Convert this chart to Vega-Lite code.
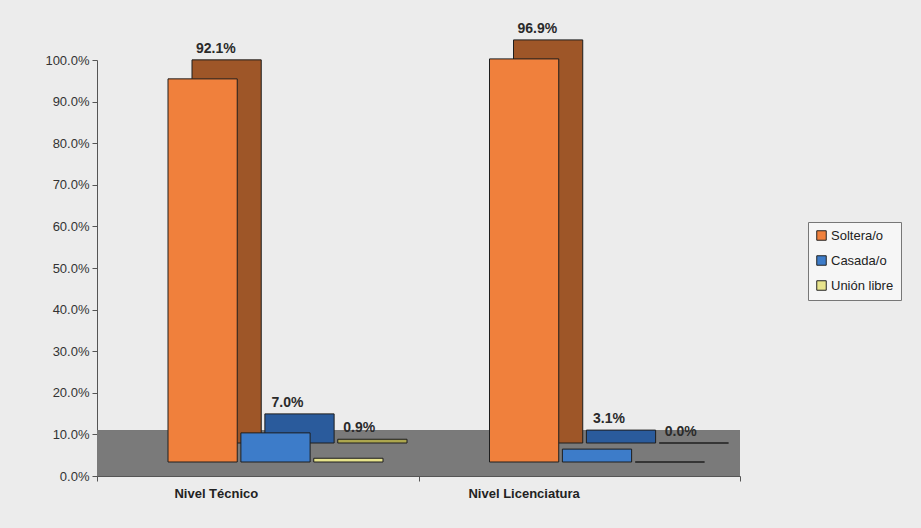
{
  "$schema": "https://vega.github.io/schema/vega-lite/v6.json",
  "width": 643,
  "height": 416,
  "autosize": {"type": "none"},
  "padding": {"left": 97, "top": 60, "right": 181, "bottom": 52},
  "background": "#ececec",
  "data": {
    "values": [
      {"nivel": "Nivel Técnico", "estado": "Soltera/o", "valor": 0.921},
      {"nivel": "Nivel Técnico", "estado": "Casada/o", "valor": 0.07},
      {"nivel": "Nivel Técnico", "estado": "Unión libre", "valor": 0.009},
      {"nivel": "Nivel Licenciatura", "estado": "Soltera/o", "valor": 0.969},
      {"nivel": "Nivel Licenciatura", "estado": "Casada/o", "valor": 0.031},
      {"nivel": "Nivel Licenciatura", "estado": "Unión libre", "valor": 0.0}
    ]
  },
  "config": {
    "font": "Liberation Sans",
    "view": {"stroke": null},
    "axis": {"labelFont": "Liberation Sans", "labelColor": "#333", "domainColor": "#555", "tickColor": "#555"},
    "legend": {
      "orient": "none",
      "legendX": 711,
      "legendY": 162,
      "padding": 7,
      "strokeColor": "#777",
      "fillColor": "#f6f6f6",
      "symbolType": "square",
      "symbolSize": 90,
      "symbolStrokeColor": "#222",
      "symbolStrokeWidth": 1,
      "labelFontSize": 13,
      "labelColor": "#222",
      "labelFont": "Liberation Sans",
      "rowPadding": 10,
      "labelOffset": 3
    }
  },
  "layer": [
    {
      "mark": {"type": "rect", "color": "#7a7a7a"},
      "encoding": {
        "y": {"datum": 0, "type": "quantitative"},
        "y2": {"datum": 0.11}
      }
    },
    {
      "mark": {"type": "bar", "yOffset": -33, "y2Offset": -33, "stroke": "#1e1e1e", "strokeWidth": 1},
      "encoding": {
        "x": {"field": "nivel", "type": "nominal", "sort": ["Nivel Técnico", "Nivel Licenciatura"]},
        "xOffset": {"field": "estado", "type": "nominal", "sort": ["Soltera/o", "Casada/o", "Unión libre"], "scale": {"range": [95, 310], "paddingInner": 0.05}},
        "y": {"field": "valor", "type": "quantitative"},
        "fill": {
          "field": "estado",
          "type": "nominal",
          "scale": {"domain": ["Soltera/o", "Casada/o", "Unión libre"], "range": ["#9e5628", "#2a5b9c", "#aca64e"]},
          "legend": null
        }
      }
    },
    {
      "mark": {"type": "bar", "yOffset": -14, "y2Offset": -14, "stroke": "#1e1e1e", "strokeWidth": 1},
      "encoding": {
        "x": {
          "field": "nivel",
          "type": "nominal",
          "sort": ["Nivel Técnico", "Nivel Licenciatura"],
          "scale": {"paddingInner": 0, "paddingOuter": 0},
          "axis": {"title": null, "labelAngle": 0, "labelFontWeight": "bold", "labelFontSize": 13, "labelColor": "#222", "labelPadding": 12, "tickBand": "extent", "tickSize": 5, "grid": false}
        },
        "xOffset": {"field": "estado", "type": "nominal", "sort": ["Soltera/o", "Casada/o", "Unión libre"], "scale": {"range": [71, 286], "paddingInner": 0.05}},
        "y": {
          "field": "valor",
          "type": "quantitative",
          "scale": {"domain": [0, 1], "nice": false},
          "axis": {"title": null, "values": [0, 0.1, 0.2, 0.3, 0.4, 0.5, 0.6, 0.7, 0.8, 0.9, 1.0], "format": ".1%", "labelFontSize": 13, "tickSize": 5, "labelPadding": 3, "gridColor": "#8c8c8c", "gridOpacity": 1}
        },
        "color": {
          "field": "estado",
          "type": "nominal",
          "scale": {"domain": ["Soltera/o", "Casada/o", "Unión libre"], "range": ["#f0803c", "#3d7cc9", "#e8e48c"]},
          "legend": {"title": null}
        }
      }
    },
    {
      "mark": {"type": "text", "yOffset": -37, "baseline": "bottom", "fontSize": 14, "fontWeight": "bold", "color": "#2a2a2a"},
      "encoding": {
        "x": {"field": "nivel", "type": "nominal", "sort": ["Nivel Técnico", "Nivel Licenciatura"]},
        "xOffset": {"field": "estado", "type": "nominal", "sort": ["Soltera/o", "Casada/o", "Unión libre"], "scale": {"range": [83, 298], "paddingInner": 0.05}},
        "y": {"field": "valor", "type": "quantitative"},
        "text": {"field": "valor", "type": "quantitative", "format": ".1%"}
      }
    }
  ],
  "resolve": {"scale": {"fill": "independent", "xOffset": "independent"}}
}
